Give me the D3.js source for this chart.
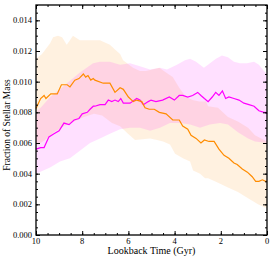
<!DOCTYPE html>
<html>
<head>
<meta charset="utf-8">
<script src="https://cdn.jsdelivr.net/npm/d3@7"></script>
<style>
  body { margin: 0; background: #fff; }
  svg { display: block; }
  text { font-family: 'Liberation Serif', 'DejaVu Serif', serif; fill: #000; }
</style>
</head>
<body>
<div id="chart"></div>
<script>
// lookback time (Gyr) vs fraction of stellar mass
const orangeLine = [
  [10.00, 0.00825], [9.80, 0.0089], [9.65, 0.0091], [9.57, 0.0089], [9.36, 0.0092],
  [9.08, 0.0092], [8.90, 0.0098], [8.65, 0.0098], [8.53, 0.00966], [8.32, 0.0101],
  [8.14, 0.0102], [7.95, 0.0105], [7.85, 0.0103], [7.75, 0.0104], [7.63, 0.0101],
  [7.52, 0.0102], [7.45, 0.0101], [7.09, 0.0099], [6.80, 0.0099], [6.58, 0.0093],
  [6.36, 0.0096], [6.22, 0.0095], [6.00, 0.0090], [5.79, 0.0087], [5.64, 0.0088],
  [5.42, 0.0087], [5.28, 0.0083], [5.10, 0.0082], [4.88, 0.0082], [4.66, 0.0080],
  [4.37, 0.0079], [4.08, 0.0075], [3.80, 0.0075], [3.65, 0.0071], [3.43, 0.0069],
  [3.29, 0.0065], [3.07, 0.0063], [2.86, 0.0060], [2.71, 0.0062], [2.51, 0.0061],
  [2.29, 0.0061], [2.08, 0.0056], [1.86, 0.0052], [1.65, 0.0050], [1.43, 0.0047],
  [1.29, 0.0046], [1.07, 0.0043], [0.85, 0.0041], [0.64, 0.0038], [0.49, 0.0035],
  [0.35, 0.0035], [0.20, 0.0036], [0.06, 0.0035], [0.00, 0.0035]
]
const magentaLine = [
  [10.00, 0.0056], [9.80, 0.0057], [9.65, 0.0057], [9.44, 0.0064], [9.22, 0.0066],
  [9.00, 0.0068], [8.79, 0.0073], [8.57, 0.0072], [8.35, 0.0075], [8.14, 0.0076],
  [8.00, 0.0079], [7.78, 0.0080], [7.66, 0.0082], [7.52, 0.0084], [7.45, 0.0084],
  [7.23, 0.0085], [7.01, 0.0085], [6.87, 0.0088], [6.72, 0.0087], [6.58, 0.0088],
  [6.44, 0.0087], [6.33, 0.0089], [6.22, 0.0086], [5.93, 0.0086], [5.64, 0.0089],
  [5.50, 0.0088], [5.35, 0.0085], [5.14, 0.0087], [5.02, 0.0088], [4.81, 0.0087],
  [4.52, 0.0088], [4.23, 0.0090], [4.01, 0.0088], [3.80, 0.0091], [3.65, 0.0091],
  [3.43, 0.0090], [3.22, 0.0091], [3.00, 0.0093], [2.86, 0.0091], [2.71, 0.0089],
  [2.55, 0.0087], [2.37, 0.0090], [2.22, 0.0093], [2.08, 0.0091], [1.93, 0.0094],
  [1.79, 0.0089], [1.65, 0.0090], [1.43, 0.0089], [1.21, 0.0088], [1.00, 0.0086],
  [0.78, 0.0085], [0.56, 0.0084], [0.35, 0.0081], [0.13, 0.0080], [0.04, 0.0080],
  [0.00, 0.0079]
]
const orangeUpper = [
  [10.00, 0.0115], [9.74, 0.0118], [9.39, 0.0125], [9.26, 0.0129], [9.05, 0.0130],
  [8.87, 0.0129], [8.67, 0.0124], [8.53, 0.0127], [8.40, 0.0130], [8.10, 0.0127],
  [7.66, 0.0127], [7.23, 0.0127], [6.80, 0.0124], [6.58, 0.0121], [6.36, 0.0118],
  [6.23, 0.0114], [5.80, 0.0109], [5.50, 0.0107], [5.24, 0.0107], [4.66, 0.0109],
  [4.37, 0.0106], [4.08, 0.0103], [3.80, 0.0096], [3.51, 0.0090], [3.22, 0.0088],
  [2.93, 0.0087], [2.64, 0.0087], [2.55, 0.0084], [2.12, 0.0083], [1.69, 0.0077],
  [1.26, 0.0074], [0.82, 0.0070], [0.52, 0.0065], [0.13, 0.0062], [0.00, 0.0061]
]
const orangeLower = [
  [10.00, 0.0058], [9.61, 0.0062], [9.22, 0.0067], [8.79, 0.0071], [8.35, 0.0074],
  [7.92, 0.0077], [7.49, 0.0079], [7.14, 0.0078], [6.71, 0.0073], [6.36, 0.0071],
  [6.02, 0.0066], [5.71, 0.0062], [5.06, 0.0063], [4.76, 0.0062], [4.50, 0.0061],
  [4.20, 0.0059], [3.98, 0.0053], [3.64, 0.0050], [3.33, 0.0048], [3.20, 0.0042],
  [2.90, 0.0040], [2.68, 0.0037], [2.55, 0.0037], [2.12, 0.0034], [1.69, 0.0031],
  [1.26, 0.0028], [0.82, 0.0024], [0.39, 0.0020], [0.09, 0.0018], [0.00, 0.0018]
]
const magentaUpper = [
  [10.00, 0.0080], [9.74, 0.0084], [9.39, 0.0090], [9.05, 0.0094], [8.66, 0.0099],
  [8.10, 0.0106], [7.53, 0.0112], [7.23, 0.0113], [6.80, 0.0113], [6.36, 0.0111],
  [5.93, 0.0112], [5.50, 0.0110], [5.06, 0.0108], [4.63, 0.0109], [4.33, 0.0108],
  [3.90, 0.0111], [3.55, 0.0114], [3.33, 0.0115], [3.07, 0.0113], [2.73, 0.0109],
  [2.47, 0.0112], [2.21, 0.0115], [1.95, 0.0117], [1.69, 0.0116], [1.43, 0.0113],
  [1.17, 0.0112], [0.87, 0.0112], [0.56, 0.0113], [0.35, 0.0111], [0.13, 0.0107],
  [0.00, 0.0105]
]
const magentaLower = [
  [10.00, 0.0040], [9.39, 0.0044], [8.96, 0.0048], [8.53, 0.0050], [8.10, 0.0055],
  [7.66, 0.0060], [7.23, 0.0063], [6.80, 0.0066], [6.36, 0.0069], [5.93, 0.0070],
  [5.50, 0.0070], [5.06, 0.0068], [4.63, 0.0070], [4.20, 0.0073], [3.77, 0.0073],
  [3.33, 0.0072], [2.90, 0.0070], [2.47, 0.0072], [2.03, 0.0073], [1.69, 0.0072],
  [1.26, 0.0067], [0.82, 0.0063], [0.52, 0.0061], [0.00, 0.0060]
]
const xTicks = [10, 8, 6, 4, 2, 0]
const yTicks = [0, 0.002, 0.004, 0.006, 0.008, 0.010, 0.012, 0.014]

const W = 274, H = 258
const m = { left: 36, right: 7, top: 5, bottom: 23 }

const svg = d3.select('#chart').append('svg')
  .attr('width', W).attr('height', H)

const x = d3.scaleLinear().domain([10, 0]).range([m.left, W - m.right])
const y = d3.scaleLinear().domain([0, 0.015]).range([H - m.bottom, m.top])

// band = upper edge forwards, lower edge backwards
function bandPath(upper, lower) {
  const pts = upper.map(d => [x(d[0]), y(d[1])])
    .concat(lower.slice().reverse().map(d => [x(d[0]), y(d[1])]))
  return 'M' + pts.join('L') + 'Z'
}

svg.append('path').attr('d', bandPath(orangeUpper, orangeLower))
  .attr('fill', '#ff8c00').attr('fill-opacity', 0.12)
svg.append('path').attr('d', bandPath(magentaUpper, magentaLower))
  .attr('fill', '#ff00ff').attr('fill-opacity', 0.12)

const line = d3.line().x(d => x(d[0])).y(d => y(d[1]))

svg.append('path').datum(magentaLine).attr('d', line)
  .attr('fill', 'none').attr('stroke', '#ff00ff').attr('stroke-width', 1.2)
svg.append('path').datum(orangeLine).attr('d', line)
  .attr('fill', 'none').attr('stroke', '#ff8c00').attr('stroke-width', 1.2)

// ticks pointing inwards on all four sides
const xMinor = d3.range(0, 10.01, 0.5)
const yMinor = d3.range(0, 0.01501, 0.0005)
const fmtY = d3.format('.3f')

function inAxis(axis, scale, vals, size) {
  return axis(scale).tickValues(vals).tickSizeInner(size).tickSizeOuter(0).tickFormat('')
}

const bottomY = H - m.bottom, topY = m.top
const leftX = m.left, rightX = W - m.right

svg.append('g').attr('transform', `translate(0,${bottomY})`).call(inAxis(d3.axisTop, x, xMinor, 2))
svg.append('g').attr('transform', `translate(0,${bottomY})`).call(inAxis(d3.axisTop, x, xTicks, 4))
svg.append('g').attr('transform', `translate(0,${topY})`).call(inAxis(d3.axisBottom, x, xMinor, 2))
svg.append('g').attr('transform', `translate(0,${topY})`).call(inAxis(d3.axisBottom, x, xTicks, 4))
svg.append('g').attr('transform', `translate(${leftX},0)`).call(inAxis(d3.axisRight, y, yMinor, 2))
svg.append('g').attr('transform', `translate(${leftX},0)`).call(inAxis(d3.axisRight, y, yTicks, 4))
svg.append('g').attr('transform', `translate(${rightX},0)`).call(inAxis(d3.axisLeft, y, yMinor, 2))
svg.append('g').attr('transform', `translate(${rightX},0)`).call(inAxis(d3.axisLeft, y, yTicks, 4))
svg.selectAll('.domain').remove()
svg.selectAll('.tick line').attr('stroke', '#000').attr('stroke-width', 1)

svg.append('rect')
  .attr('x', leftX).attr('y', topY)
  .attr('width', rightX - leftX).attr('height', bottomY - topY)
  .attr('fill', 'none').attr('stroke', '#000').attr('stroke-width', 1.3)

// tick labels
svg.append('g').selectAll('text').data(yTicks).join('text')
  .attr('x', leftX - 4).attr('y', d => y(d)).attr('dy', '0.35em')
  .attr('text-anchor', 'end').style('font-size', '8.5px')
  .text(d => fmtY(d))

svg.append('g').selectAll('text').data(xTicks).join('text')
  .attr('x', d => x(d)).attr('y', bottomY + 9)
  .attr('text-anchor', 'middle').style('font-size', '8.5px')
  .text(d => d)

svg.append('text')
  .attr('x', (leftX + rightX) / 2).attr('y', H - 4)
  .attr('text-anchor', 'middle').style('font-size', '10px')
  .text('Lookback Time (Gyr)')

svg.append('text')
  .attr('transform', `translate(10,${(topY + bottomY) / 2 + 5}) rotate(-90)`)
  .attr('text-anchor', 'middle').style('font-size', '9.5px')
  .text('Fraction of Stellar Mass')
</script>
</body>
</html>
